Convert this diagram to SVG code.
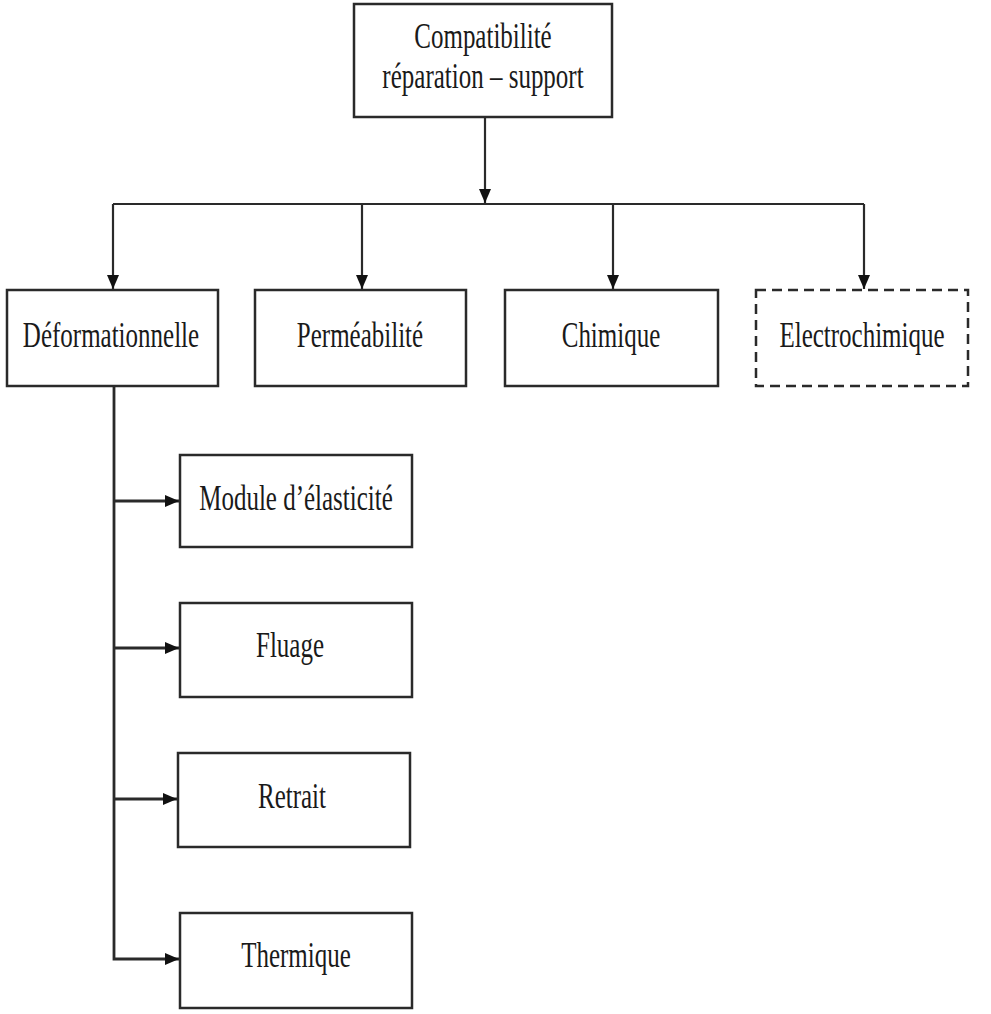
<svg xmlns="http://www.w3.org/2000/svg" width="991" height="1014" viewBox="0 0 991 1014">
  <style>
    .box { fill: #ffffff; stroke: #2a2a2a; stroke-width: 2.5; }
    .dashed { stroke-dasharray: 10 6; }
    .wire { fill: none; stroke: #2a2a2a; stroke-width: 2.2; }
    .branch { stroke-width: 2.8; }
    .label { font-family: "Liberation Serif", "Times New Roman", serif; font-size: 25px; fill: #1a1a1a; text-anchor: middle; }
  </style>
  <defs>
    <marker id="head" viewBox="0 0 14 12" refX="14" refY="6" markerWidth="14" markerHeight="12" markerUnits="userSpaceOnUse" orient="auto">
      <path d="M0,0 L14,6 L0,12 Z" fill="#111111"/>
    </marker>
  </defs>

  <rect width="991" height="1014" fill="#ffffff"/>

  <!-- connectors -->
  <g id="connectors">
    <line class="wire" x1="485" y1="117" x2="485" y2="203" marker-end="url(#head)"/>
    <line class="wire" x1="113" y1="204" x2="864" y2="204"/>
    <line class="wire" x1="113" y1="204" x2="113" y2="289" marker-end="url(#head)"/>
    <line class="wire" x1="362" y1="204" x2="362" y2="289" marker-end="url(#head)"/>
    <line class="wire" x1="613" y1="204" x2="613" y2="289" marker-end="url(#head)"/>
    <line class="wire" x1="864" y1="204" x2="864" y2="289" marker-end="url(#head)"/>
    <polyline class="wire branch" points="114,386 114,959 179,959" marker-end="url(#head)"/>
    <line class="wire branch" x1="114" y1="501" x2="179" y2="501" marker-end="url(#head)"/>
    <line class="wire branch" x1="114" y1="648" x2="179" y2="648" marker-end="url(#head)"/>
    <line class="wire branch" x1="114" y1="799" x2="177" y2="799" marker-end="url(#head)"/>
  </g>

  <!-- root -->
  <g id="compatibilite">
    <rect class="box" x="354" y="4" width="258" height="113"/>
    <text class="label" transform="translate(483,48) scale(1,1.45)">Compatibilité</text>
    <text class="label" transform="translate(483,88) scale(1,1.45)">réparation – support</text>
  </g>

  <!-- first level -->
  <g id="deformationnelle">
    <rect class="box" x="7" y="290" width="211" height="96"/>
    <text class="label" transform="translate(111,347) scale(1,1.45)">Déformationnelle</text>
  </g>
  <g id="permeabilite">
    <rect class="box" x="255" y="290" width="211" height="96"/>
    <text class="label" transform="translate(360,347) scale(1,1.45)">Perméabilité</text>
  </g>
  <g id="chimique">
    <rect class="box" x="505" y="290" width="213" height="96"/>
    <text class="label" transform="translate(611,347) scale(1,1.45)">Chimique</text>
  </g>
  <g id="electrochimique">
    <rect class="box dashed" x="756" y="290" width="212" height="96"/>
    <text class="label" transform="translate(862,347) scale(1,1.45)">Electrochimique</text>
  </g>

  <!-- deformation sub-items -->
  <g id="module-elasticite">
    <rect class="box" x="180" y="455" width="232" height="92"/>
    <text class="label" transform="translate(296,510) scale(1,1.45)">Module d’élasticité</text>
  </g>
  <g id="fluage">
    <rect class="box" x="180" y="603" width="232" height="94"/>
    <text class="label" transform="translate(290,657) scale(1,1.45)">Fluage</text>
  </g>
  <g id="retrait">
    <rect class="box" x="178" y="753" width="232" height="94"/>
    <text class="label" transform="translate(292,808) scale(1,1.45)">Retrait</text>
  </g>
  <g id="thermique">
    <rect class="box" x="180" y="913" width="232" height="95"/>
    <text class="label" transform="translate(296,967) scale(1,1.45)">Thermique</text>
  </g>
</svg>
